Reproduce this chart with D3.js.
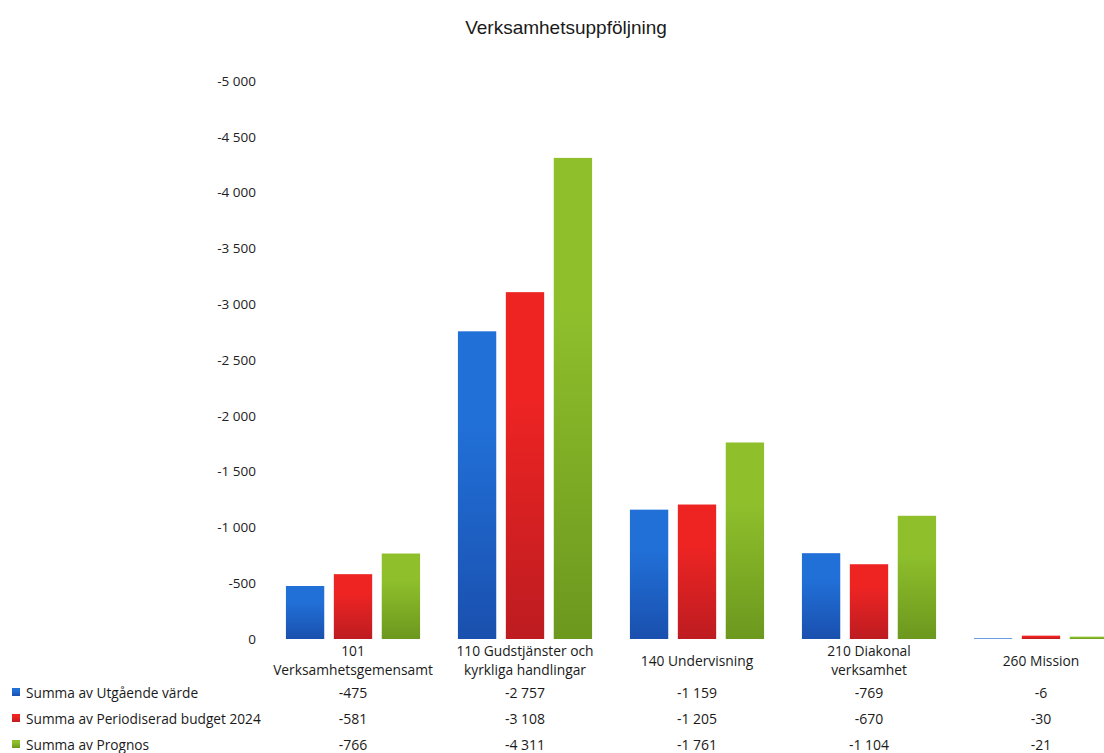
<!DOCTYPE html>
<html>
<head>
<meta charset="utf-8">
<script src="https://cdn.jsdelivr.net/npm/d3@7"></script>
<style>
  html, body { margin: 0; padding: 0; background: #fff; overflow: hidden; }
  svg { display: block; }
</style>
</head>
<body>
<svg id="chart" width="1104" height="753"></svg>
<script>
const title = "Verksamhetsuppföljning";
const categories = ["101", "110", "140", "210", "260"];
const categoryLabels = [
  ["101", "Verksamhetsgemensamt"],
  ["110 Gudstjänster och", "kyrkliga handlingar"],
  ["140 Undervisning"],
  ["210 Diakonal", "verksamhet"],
  ["260 Mission"]
];
const seriesNames = [
  "Summa av Utgående värde",
  "Summa av Periodiserad budget 2024",
  "Summa av Prognos"
];
const utgaende = [-475, -2757, -1159, -769, -6];
const budget = [-581, -3108, -1205, -670, -30];
const prognos = [-766, -4311, -1761, -1104, -21];
const yTicks = [0, -500, -1000, -1500, -2000, -2500, -3000, -3500, -4000, -4500, -5000];

const seriesValues = [utgaende, budget, prognos];
const colorsTop = ["#2170d8", "#ee2423", "#8fc02c"];
const colorsBottom = ["#1a50ae", "#bd1c21", "#6c981e"];

const svg = d3.select("#chart");
const fontFam = "'Open Sans', 'Noto Sans', sans-serif";

const locale = d3.formatLocale({ decimal: ",", thousands: " ", grouping: [3], currency: ["", " kr"], minus: "-" });
const fmt = locale.format(",d");

const y = d3.scaleLinear().domain([0, -5000]).range([639, 81]);
const x = d3.scaleBand().domain(categories).range([267, 1127]).paddingInner(0.22).paddingOuter(0.11);
const x1 = d3.scaleBand().domain(d3.range(3)).range([0, x.bandwidth()]).paddingInner(0.2);

// gradients
const defs = svg.append("defs");
colorsTop.forEach((c, i) => {
  const g = defs.append("linearGradient").attr("id", "grad" + i)
    .attr("x1", 0).attr("y1", 0).attr("x2", 0).attr("y2", 1);
  g.append("stop").attr("offset", "0%").attr("stop-color", c);
  g.append("stop").attr("offset", "30%").attr("stop-color", c);
  g.append("stop").attr("offset", "100%").attr("stop-color", colorsBottom[i]);
});

// title
svg.append("text")
  .attr("x", 566).attr("y", 34)
  .attr("text-anchor", "middle")
  .attr("font-family", "'Liberation Sans', Arial, sans-serif")
  .attr("font-size", 19)
  .attr("fill", "#1a1a1a")
  .text(title);

// y axis
const yAxis = d3.axisLeft(y).tickValues(yTicks).tickFormat(d => fmt(d)).tickSize(0).tickPadding(0);
const gy = svg.append("g").attr("transform", "translate(256,0)").call(yAxis);
gy.select(".domain").remove();
gy.selectAll("text")
  .attr("font-family", fontFam)
  .attr("font-size", 13.5)
  .attr("fill", "#222");

// bars
const groups = svg.append("g").selectAll("g")
  .data(categories)
  .join("g")
  .attr("transform", d => `translate(${x(d)},0)`);

groups.selectAll("rect")
  .data((d, ci) => seriesValues.map((s, si) => ({ si, v: s[ci] })))
  .join("rect")
  .attr("x", d => x1(d.si))
  .attr("width", x1.bandwidth())
  .attr("y", d => y(d.v))
  .attr("height", d => Math.max(0, y(0) - y(d.v)))
  .attr("fill", d => `url(#grad${d.si})`);

// category labels
categories.forEach((c, ci) => {
  const lines = categoryLabels[ci];
  const cx = x(c) + x.bandwidth() / 2;
  const startY = lines.length === 2 ? 656 : 666;
  const t = svg.append("text")
    .attr("text-anchor", "middle")
    .attr("font-family", fontFam)
    .attr("font-size", 13.8)
    .attr("fill", "#1a1a1a");
  lines.forEach((l, li) => {
    t.append("tspan").attr("x", cx).attr("y", startY + li * 19).text(l);
  });
});

// data table
const rowY = [698, 724, 750];
seriesNames.forEach((name, si) => {
  svg.append("rect")
    .attr("x", 12).attr("y", rowY[si] - 10)
    .attr("width", 8).attr("height", 8)
    .attr("fill", `url(#grad${si})`);
  svg.append("text")
    .attr("x", 26).attr("y", rowY[si])
    .attr("font-family", fontFam)
    .attr("font-size", 13.7)
    .attr("fill", "#1a1a1a")
    .text(name);
  categories.forEach((c, ci) => {
    svg.append("text")
      .attr("x", x(c) + x.bandwidth() / 2).attr("y", rowY[si])
      .attr("text-anchor", "middle")
      .attr("font-family", fontFam)
      .attr("font-size", 14)
      .attr("fill", "#1a1a1a")
      .text(fmt(seriesValues[si][ci]));
  });
});
</script>
</body>
</html>
